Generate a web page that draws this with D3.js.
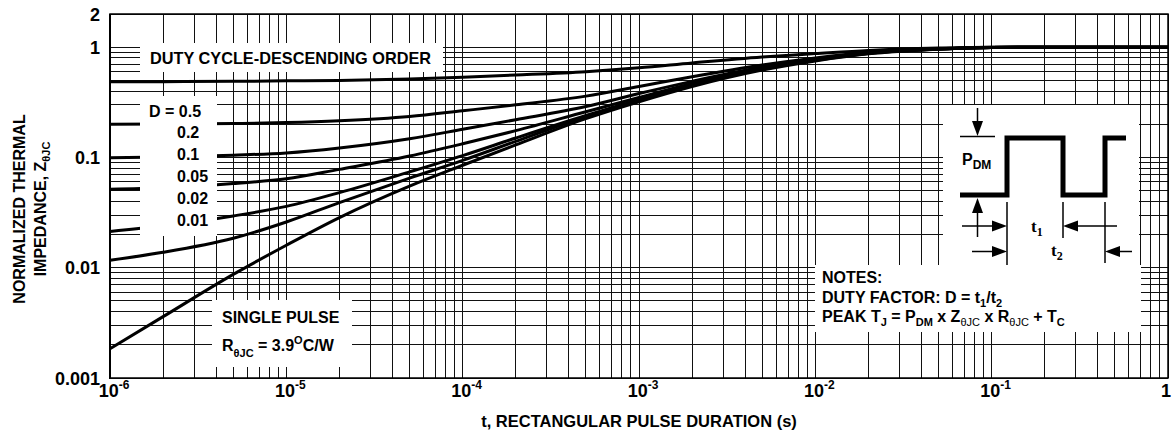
<!DOCTYPE html>
<html>
<head>
<meta charset="utf-8">
<script src="https://cdn.jsdelivr.net/npm/d3@7"></script>
<style>
  body { margin: 0; background: #fff; }
  svg text { font-family: "Liberation Sans", Arial, Helvetica, sans-serif; font-weight: bold; fill: #000; }
</style>
</head>
<body>
<svg id="chart" width="1173" height="445"></svg>
<script>
// Pulse durations (s) at which the curves are sampled
const pulseTimes = [1e-6, 2e-6, 5e-6, 1e-5, 2e-5, 5e-5, 1e-4, 2e-4, 5e-4, 1e-3, 2e-3, 5e-3, 1e-2, 2e-2, 5e-2, 1e-1, 2e-1, 5e-1, 1];

// Normalized thermal impedance for each duty cycle
const zDuty50  = [0.485, 0.487, 0.490, 0.495, 0.500, 0.515, 0.535, 0.560, 0.600, 0.650, 0.720, 0.815, 0.875, 0.935, 0.982, 1.0, 1.0, 1.0, 1.0];
const zDuty20  = [0.200, 0.201, 0.203, 0.207, 0.215, 0.235, 0.265, 0.300, 0.360, 0.440, 0.540, 0.690, 0.800, 0.900, 0.970, 1.0, 1.0, 1.0, 1.0];
const zDuty10  = [0.0996, 0.101, 0.105, 0.110, 0.122, 0.148, 0.180, 0.220, 0.290, 0.380, 0.490, 0.660, 0.780, 0.890, 0.965, 0.995, 1.0, 1.0, 1.0];
const zDuty05  = [0.0515, 0.053, 0.058, 0.064, 0.078, 0.103, 0.133, 0.175, 0.260, 0.350, 0.470, 0.645, 0.770, 0.885, 0.963, 0.995, 1.0, 1.0, 1.0];
const zDuty02  = [0.0213, 0.024, 0.0295, 0.036, 0.048, 0.074, 0.104, 0.150, 0.240, 0.335, 0.455, 0.635, 0.765, 0.880, 0.962, 0.995, 1.0, 1.0, 1.0];
const zDuty01  = [0.0117, 0.0138, 0.0185, 0.026, 0.039, 0.065, 0.094, 0.140, 0.235, 0.330, 0.450, 0.630, 0.760, 0.878, 0.961, 0.995, 1.0, 1.0, 1.0];
const zSingle  = [0.00184, 0.0036, 0.0087, 0.0160, 0.0285, 0.055, 0.085, 0.130, 0.225, 0.320, 0.440, 0.620, 0.750, 0.870, 0.960, 0.995, 1.0, 1.0, 1.0];

const curves = [zDuty50, zDuty20, zDuty10, zDuty05, zDuty02, zDuty01, zSingle];

// Axis labels
const xTickValues = [1e-6, 1e-5, 1e-4, 1e-3, 1e-2, 1e-1, 1];
const xTickBase   = ["10", "10", "10", "10", "10", "10", "1"];
const xTickExp    = ["-6", "-5", "-4", "-3", "-2", "-1", ""];
const yTickValues = [0.001, 0.01, 0.1, 1, 2];
const yTickLabels = ["0.001", "0.01", "0.1", "1", "2"];
const dutyLabels  = ["D = 0.5", "0.2", "0.1", "0.05", "0.02", "0.01"];

const svg = d3.select("#chart");
const plot = { left: 110, right: 1168, top: 14, bottom: 378 };

const x = d3.scaleLog().domain([1e-6, 1]).range([plot.left, plot.right]);
const y = d3.scaleLog().domain([0.001, 2]).range([plot.bottom, plot.top]);

// Log grid
const grid = svg.append("g").attr("stroke", "#111").attr("stroke-width", 1).attr("shape-rendering", "crispEdges");
grid.selectAll("line.v").data(x.ticks()).join("line")
  .attr("x1", d => x(d)).attr("x2", d => x(d))
  .attr("y1", plot.top).attr("y2", plot.bottom);
grid.selectAll("line.h").data(y.ticks()).join("line")
  .attr("x1", plot.left).attr("x2", plot.right)
  .attr("y1", d => y(d)).attr("y2", d => y(d));

// Impedance curves
const line = d3.line()
  .x((d, i) => x(pulseTimes[i]))
  .y(d => y(d))
  .curve(d3.curveMonotoneX);

svg.append("g").selectAll("path").data(curves).join("path")
  .attr("d", line)
  .attr("fill", "none")
  .attr("stroke", "#000")
  .attr("stroke-width", 3)
  .attr("stroke-linejoin", "round");

// White label panels laid over the grid
const panels = [
  { x: 140, y: 43, w: 303, h: 29 },   // duty cycle heading
  { x: 140, y: 96, w: 77, h: 140 },   // D values
  { x: 212, y: 300, w: 140, h: 67 },  // single pulse
  { x: 943, y: 105, w: 196, h: 161 }, // pulse diagram
  { x: 815, y: 265, w: 326, h: 67 }   // notes
];
svg.append("g").selectAll("rect").data(panels).join("rect")
  .attr("x", d => d.x).attr("y", d => d.y)
  .attr("width", d => d.w).attr("height", d => d.h)
  .attr("fill", "#fff");

// Frame
svg.append("rect")
  .attr("x", plot.left).attr("y", plot.top)
  .attr("width", plot.right - plot.left).attr("height", plot.bottom - plot.top)
  .attr("fill", "none").attr("stroke", "#000").attr("stroke-width", 1.5);
svg.append("line").attr("x1", plot.left).attr("x2", plot.left)
  .attr("y1", plot.top).attr("y2", plot.bottom + 1)
  .attr("stroke", "#000").attr("stroke-width", 2);

// Y tick labels
svg.append("g").selectAll("text").data(yTickValues).join("text")
  .attr("x", plot.left - 10)
  .attr("y", d => y(d) + 6.5)
  .attr("text-anchor", "end")
  .attr("font-size", 18)
  .text((d, i) => yTickLabels[i]);

// X tick labels with exponents
const xt = svg.append("g").selectAll("text").data(xTickValues).join("text")
  .attr("x", (d, i) => x(d) + (xTickExp[i] ? 4 : -2))
  .attr("y", 397)
  .attr("text-anchor", "middle")
  .attr("font-size", 18);
xt.append("tspan").text((d, i) => xTickBase[i]);
xt.append("tspan").attr("dy", -8).attr("font-size", 12).text((d, i) => xTickExp[i]);

// Axis titles
svg.append("text")
  .attr("x", 639).attr("y", 427)
  .attr("text-anchor", "middle").attr("font-size", 16.5)
  .text("t, RECTANGULAR PULSE DURATION (s)");

const yTitle = svg.append("g").attr("transform", "translate(0,209) rotate(-90)");
yTitle.append("text").attr("x", 0).attr("y", 25).attr("text-anchor", "middle").attr("font-size", 16)
  .text("NORMALIZED THERMAL");
const yt2 = yTitle.append("text").attr("x", 0).attr("y", 46).attr("text-anchor", "middle").attr("font-size", 16);
yt2.append("tspan").text("IMPEDANCE, Z");
yt2.append("tspan").attr("dy", 4).attr("font-size", 11).text("θJC");

// Duty cycle heading and values
svg.append("text").attr("x", 150).attr("y", 64).attr("font-size", 16.3)
  .text("DUTY CYCLE-DESCENDING ORDER");
svg.append("g").selectAll("text").data(dutyLabels).join("text")
  .attr("x", (d, i) => i === 0 ? 149 : 177)
  .attr("y", (d, i) => 116.5 + i * 21.9)
  .attr("font-size", 16)
  .text(d => d);

// Single pulse note
svg.append("text").attr("x", 222).attr("y", 323).attr("font-size", 16).text("SINGLE PULSE");
const rj = svg.append("text").attr("x", 222).attr("y", 351).attr("font-size", 16);
rj.append("tspan").text("R");
rj.append("tspan").attr("dy", 6).attr("font-size", 11).text("θJC");
rj.append("tspan").attr("dy", -6).text(" = 3.9");
rj.append("tspan").attr("dy", -7).attr("font-size", 11).text("O");
rj.append("tspan").attr("dy", 7).text("C/W");

// Notes
const notes = svg.append("g").attr("font-size", 16);
notes.append("text").attr("x", 822).attr("y", 283).attr("font-size", 16).text("NOTES:");
const n2 = notes.append("text").attr("x", 822).attr("y", 303).attr("font-size", 16);
n2.append("tspan").text("DUTY FACTOR: D = t");
n2.append("tspan").attr("dy", 4).attr("font-size", 11).text("1");
n2.append("tspan").attr("dy", -4).text("/t");
n2.append("tspan").attr("dy", 4).attr("font-size", 11).text("2");
const n3 = notes.append("text").attr("x", 822).attr("y", 322).attr("font-size", 16);
n3.append("tspan").text("PEAK T");
n3.append("tspan").attr("dy", 4).attr("font-size", 11).text("J");
n3.append("tspan").attr("dy", -4).text(" = P");
n3.append("tspan").attr("dy", 4).attr("font-size", 11).text("DM");
n3.append("tspan").attr("dy", -4).text(" x Z");
n3.append("tspan").attr("dy", 4).attr("font-size", 11).attr("font-weight", "normal").text("θJC");
n3.append("tspan").attr("dy", -4).text(" x R");
n3.append("tspan").attr("dy", 4).attr("font-size", 11).attr("font-weight", "normal").text("θJC");
n3.append("tspan").attr("dy", -4).text(" + T");
n3.append("tspan").attr("dy", 4).attr("font-size", 11).text("C");

// Pulse waveform diagram
const dg = svg.append("g");
const lowY = 195, highY = 138;
dg.append("path")
  .attr("d", `M960,${lowY} H1007 V${highY} H1063 V${lowY} H1105 V${highY} H1126`)
  .attr("fill", "none").attr("stroke", "#000").attr("stroke-width", 5)
  .attr("stroke-linejoin", "miter").attr("stroke-linecap", "butt");

const thin = (x1, y1, x2, y2) => dg.append("line")
  .attr("x1", x1).attr("y1", y1).attr("x2", x2).attr("y2", y2)
  .attr("stroke", "#000").attr("stroke-width", 1.5);
// arrowhead: tip at (tx,ty), pointing in direction (dx,dy)
const head = (tx, ty, dx, dy) => {
  const L = 15, Wd = 5.5;
  const bx = tx - dx * L, by = ty - dy * L;
  const px = -dy * Wd, py = dx * Wd;
  dg.append("path")
    .attr("d", `M${tx},${ty} L${bx + px},${by + py} L${bx - px},${by - py} Z`)
    .attr("fill", "#000");
};

// P_DM reference line and arrows
thin(960, 136.5, 995, 136.5);
thin(977.5, 108, 977.5, 124); head(977.5, 136, 0, 1);
thin(977.5, 212, 977.5, 237); head(977.5, 198, 0, -1);

// Duration markers
thin(1007, 202, 1007, 265);
thin(1063, 202, 1063, 238);
thin(1105, 202, 1105, 263);
thin(962, 226, 994, 226); head(1007, 226, 1, 0);
thin(1077, 226, 1117, 226); head(1063, 226, -1, 0);
thin(972, 251.5, 994, 251.5); head(1007, 251.5, 1, 0);
thin(1118, 251.5, 1132, 251.5); head(1105, 251.5, -1, 0);

const pdm = dg.append("text").attr("x", 962).attr("y", 165).attr("font-size", 16);
pdm.append("tspan").text("P");
pdm.append("tspan").attr("dy", 4).attr("font-size", 12).text("DM");

const t1 = dg.append("text").attr("x", 1031).attr("y", 232).attr("font-size", 17)
  .style("font-family", "'Liberation Serif', 'Times New Roman', serif");
t1.append("tspan").text("t");
t1.append("tspan").attr("dy", 4).attr("font-size", 12).text("1");
const t2 = dg.append("text").attr("x", 1051).attr("y", 256).attr("font-size", 17)
  .style("font-family", "'Liberation Serif', 'Times New Roman', serif");
t2.append("tspan").text("t");
t2.append("tspan").attr("dy", 4).attr("font-size", 12).text("2");
</script>
</body>
</html>
